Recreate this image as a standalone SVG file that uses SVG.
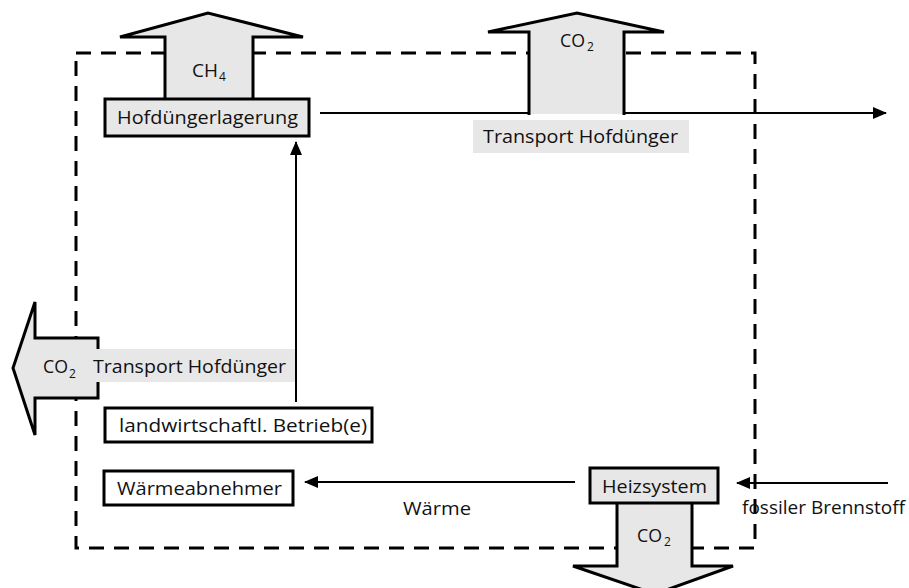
<svg xmlns="http://www.w3.org/2000/svg" width="909" height="588" viewBox="0 0 909 588">
<style>
text{font-family:"Open Sans","Noto Sans","Liberation Sans",sans-serif;font-size:17.5px;fill:#111}
.box{fill:#fff;stroke:#000;stroke-width:3}
.gbox{fill:#e7e7e7;stroke:#000;stroke-width:3}
.big{fill:#e7e7e7;stroke:#000;stroke-width:3;stroke-linejoin:miter}
.band{fill:#e7e7e7}
.ln{fill:none;stroke:#000;stroke-width:2}
.sub{font-size:12px}
</style>
<defs>
<marker id="ah" viewBox="0 0 14 12" refX="13" refY="6" markerWidth="14" markerHeight="12" markerUnits="userSpaceOnUse" orient="auto">
<path d="M0,0 L14,6 L0,12 Z" fill="#000"/>
</marker>
</defs>
<rect id="boundary" x="76" y="53" width="679" height="495" fill="none" stroke="#000" stroke-width="3" stroke-dasharray="15 10"/>
<g id="connectors">
<line class="ln" x1="320" y1="113" x2="886" y2="113" marker-end="url(#ah)"/>
<line class="ln" x1="296" y1="402" x2="296" y2="142" marker-end="url(#ah)"/>
<line class="ln" x1="575" y1="482" x2="305" y2="482" marker-end="url(#ah)"/>
<line class="ln" x1="888" y1="483" x2="737" y2="483" marker-end="url(#ah)"/>
</g>
<g id="ch4-arrow">
<polygon class="big" points="165,100 165,37 120,37 208,13 303,37 253,37 253,100"/>
<text x="192" y="77" textLength="26" lengthAdjust="spacingAndGlyphs">CH</text><text class="sub" x="219" y="81">4</text>
</g>
<g id="co2-top-arrow">
<polygon points="529,114 529,32 488,32 577,13 664,32 624,32 624,114" fill="#e7e7e7"/>
<polyline class="big" points="529,115 529,32 488,32 577,13 664,32 624,32 624,115" style="fill:none"/>
<text x="560" y="47" textLength="25" lengthAdjust="spacingAndGlyphs">CO</text><text class="sub" x="587" y="51">2</text>
</g>
<g id="transport-top">
<rect class="band" x="473" y="120" width="216" height="33"/>
<text x="483" y="143" textLength="195" lengthAdjust="spacingAndGlyphs">Transport Hofdünger</text>
</g>
<g id="hofduengerlagerung">
<rect class="gbox" x="105" y="99" width="204" height="37"/>
<text x="117" y="124" textLength="181" lengthAdjust="spacingAndGlyphs">Hofdüngerlagerung</text>
</g>
<g id="co2-left-arrow">
<polygon class="big" points="98,338 35,338 35,302 13,368 35,435 35,398 98,398"/>
<rect class="band" x="96" y="349" width="199" height="33"/>
<text x="43" y="373" textLength="25" lengthAdjust="spacingAndGlyphs">CO</text><text class="sub" x="69" y="378">2</text>
<text x="93" y="373" textLength="193" lengthAdjust="spacingAndGlyphs">Transport Hofdünger</text>
</g>
<g id="betrieb">
<rect class="box" x="105" y="408" width="267" height="34"/>
<text x="119" y="432" textLength="248" lengthAdjust="spacingAndGlyphs">landwirtschaftl. Betrieb(e)</text>
</g>
<g id="waermeabnehmer">
<rect class="box" x="104" y="471" width="189" height="34"/>
<text x="117" y="495" textLength="165" lengthAdjust="spacingAndGlyphs">Wärmeabnehmer</text>
</g>
<text id="waerme" x="403" y="515" textLength="68" lengthAdjust="spacingAndGlyphs">Wärme</text>
<text id="fossil" x="742" y="514" textLength="163" lengthAdjust="spacingAndGlyphs">fossiler Brennstoff</text>
<g id="co2-bottom-arrow">
<polygon class="big" points="617,502 617,566 573,566 655,594 733,566 692,566 692,502"/>
<text x="637" y="542" textLength="25" lengthAdjust="spacingAndGlyphs">CO</text><text class="sub" x="664" y="546">2</text>
</g>
<g id="heizsystem">
<rect class="gbox" x="590" y="468" width="128" height="35"/>
<text x="602" y="493" textLength="105" lengthAdjust="spacingAndGlyphs">Heizsystem</text>
</g>
</svg>
